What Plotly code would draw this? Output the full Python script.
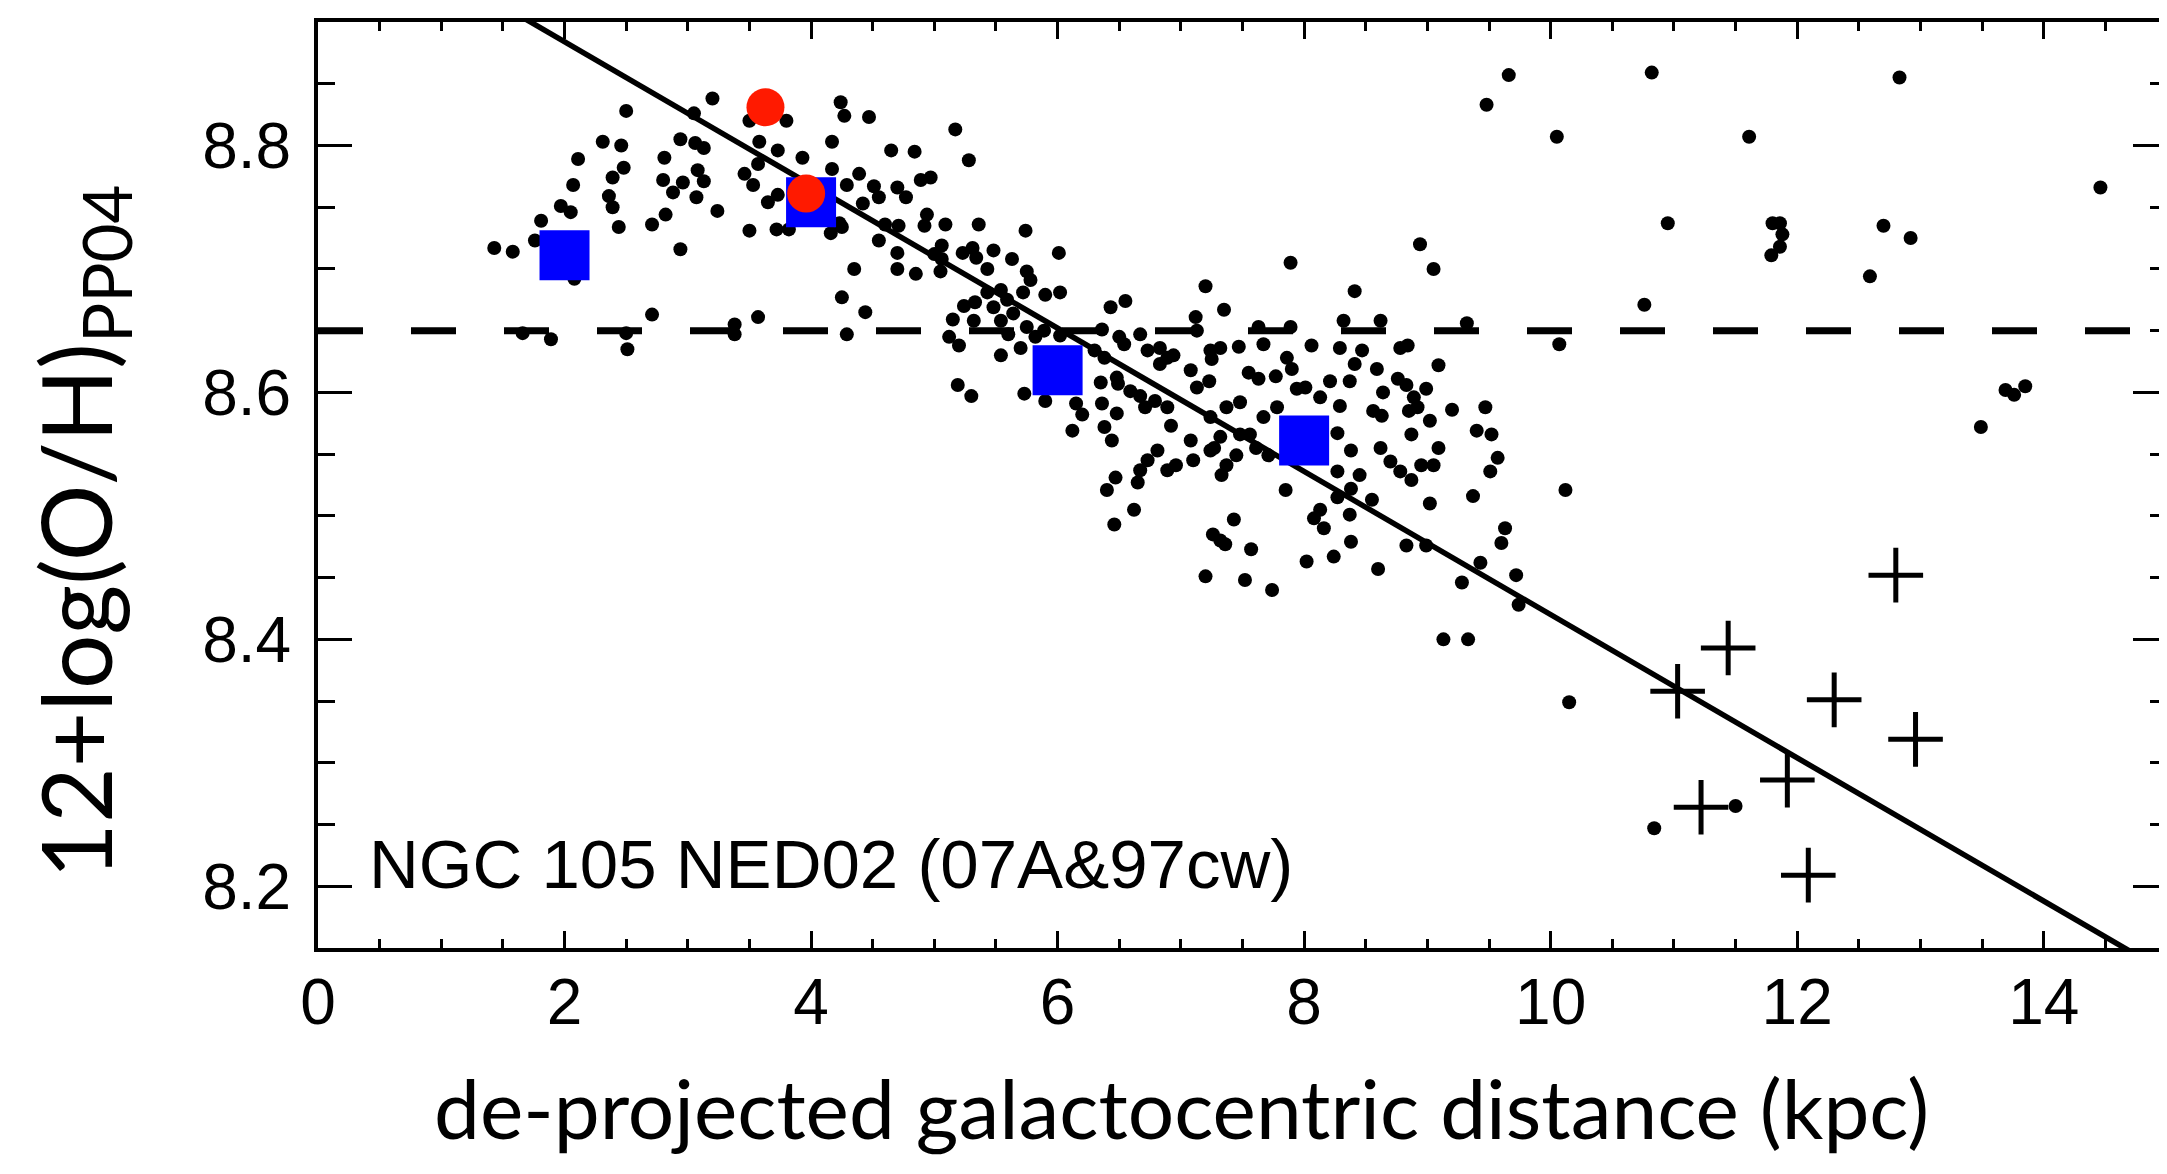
import plotly.graph_objects as go

# HII regions: (galactocentric distance in kpc, 12+log(O/H))
hii_points = [
    (1.43, 8.717), (1.58, 8.714), (1.76, 8.723), (1.81, 8.739), (1.97, 8.751), (2.05, 8.746),
    (2.07, 8.768), (2.11, 8.789), (2.08, 8.692), (2.31, 8.803), (2.46, 8.800), (2.50, 8.828),
    (2.48, 8.782), (2.39, 8.774), (2.36, 8.759), (2.39, 8.750), (2.44, 8.734), (2.71, 8.736),
    (2.82, 8.744), (2.94, 8.716), (2.81, 8.790), (2.94, 8.805), (3.06, 8.802), (3.13, 8.798),
    (2.80, 8.772), (2.88, 8.762), (2.96, 8.770), (3.08, 8.780), (3.13, 8.771), (3.07, 8.758),
    (3.24, 8.747), (3.05, 8.826), (3.20, 8.838), (3.50, 8.820), (3.80, 8.820), (3.58, 8.803),
    (3.73, 8.796), (3.93, 8.790), (3.46, 8.777), (3.57, 8.785), (3.53, 8.768), (3.65, 8.754),
    (3.73, 8.760), (3.50, 8.731), (3.72, 8.732), (3.82, 8.732), (4.16, 8.729), (4.23, 8.737),
    (1.66, 8.648), (1.89, 8.643), (2.51, 8.635), (2.50, 8.648), (2.71, 8.663), (3.38, 8.655),
    (3.38, 8.647), (3.57, 8.661),
    (4.24, 8.835), (4.27, 8.824), (4.47, 8.823), (4.17, 8.803), (5.17, 8.813), (4.65, 8.796),
    (4.84, 8.795), (5.28, 8.788), (4.17, 8.781), (4.39, 8.777), (4.29, 8.768), (4.51, 8.767),
    (4.55, 8.758), (4.70, 8.766), (4.77, 8.758), (4.89, 8.772), (4.97, 8.774), (4.42, 8.753),
    (4.60, 8.736), (4.71, 8.735), (4.55, 8.723), (4.25, 8.734), (4.94, 8.744), (4.92, 8.735),
    (5.09, 8.736), (5.36, 8.736), (5.74, 8.731), (4.70, 8.713), (4.70, 8.700), (4.85, 8.696),
    (4.35, 8.700), (5.00, 8.712), (5.06, 8.719), (5.06, 8.708), (5.05, 8.698), (5.23, 8.713),
    (5.31, 8.717), (5.34, 8.709), (5.43, 8.700), (5.48, 8.715), (5.63, 8.708), (5.75, 8.698),
    (5.78, 8.691), (6.01, 8.713), (4.25, 8.677), (4.44, 8.665), (4.29, 8.647), (5.15, 8.659),
    (5.12, 8.645), (5.20, 8.638), (5.24, 8.670), (5.33, 8.673), (5.32, 8.658), (5.43, 8.681),
    (5.48, 8.669), (5.54, 8.683), (5.59, 8.675), (5.54, 8.658), (5.64, 8.664), (5.72, 8.681),
    (5.90, 8.679), (6.02, 8.681), (5.75, 8.653), (5.82, 8.645), (5.70, 8.636), (5.54, 8.630),
    (5.60, 8.647), (6.43, 8.669), (6.55, 8.674), (6.36, 8.651), (6.50, 8.645), (6.67, 8.647),
    (7.20, 8.686), (7.12, 8.661), (7.13, 8.650), (6.73, 8.634), (6.83, 8.636), (6.94, 8.630),
    (7.25, 8.627), (7.08, 8.618), (7.23, 8.609), (6.35, 8.608), (6.49, 8.607), (5.19, 8.606),
    (7.35, 8.667), (5.89, 8.650), (6.02, 8.646),
    (5.30, 8.597), (5.73, 8.599), (5.90, 8.593), (6.15, 8.591), (6.20, 8.582), (6.12, 8.569),
    (6.36, 8.591), (6.38, 8.572), (6.44, 8.561), (6.48, 8.583), (6.59, 8.601), (6.67, 8.597),
    (6.71, 8.588), (6.79, 8.593), (6.89, 8.588), (6.92, 8.573), (6.83, 8.623), (7.13, 8.604),
    (7.08, 8.561), (7.10, 8.545), (7.24, 8.553), (7.32, 8.564), (6.81, 8.553), (6.73, 8.545),
    (6.67, 8.537), (6.65, 8.527), (6.89, 8.537), (6.96, 8.541), (6.47, 8.531), (6.40, 8.521),
    (6.62, 8.505), (6.46, 8.493), (7.26, 8.485), (7.32, 8.480), (7.20, 8.451), (6.54, 8.639),
    (6.89, 8.628), (7.24, 8.634), (6.38, 8.628), (6.48, 8.612), (6.30, 8.634),
    (7.63, 8.653), (7.89, 8.653), (8.32, 8.658), (8.62, 8.658), (9.32, 8.656), (10.07, 8.639),
    (7.32, 8.636), (7.47, 8.637), (7.67, 8.639), (7.86, 8.628), (7.90, 8.619), (8.06, 8.638),
    (8.29, 8.636), (8.47, 8.634), (8.41, 8.623), (8.59, 8.619), (8.78, 8.636), (8.84, 8.638),
    (9.09, 8.622), (7.55, 8.616), (7.63, 8.611), (7.77, 8.613), (7.94, 8.603), (8.01, 8.604),
    (8.13, 8.596), (8.21, 8.609), (8.37, 8.609), (8.29, 8.589), (8.64, 8.600), (8.76, 8.611),
    (8.83, 8.606), (8.99, 8.603), (8.89, 8.596), (8.92, 8.588), (8.85, 8.585), (9.02, 8.577),
    (8.56, 8.585), (8.63, 8.581), (9.20, 8.586), (9.47, 8.588), (9.40, 8.569), (9.52, 8.566),
    (9.57, 8.547), (9.51, 8.536), (8.87, 8.566), (9.09, 8.555), (8.62, 8.555), (8.70, 8.544),
    (8.78, 8.536), (8.87, 8.529), (8.95, 8.541), (9.05, 8.541), (8.38, 8.553), (8.27, 8.567),
    (8.27, 8.536), (8.45, 8.533), (8.38, 8.522), (8.27, 8.515), (8.55, 8.513), (9.02, 8.510),
    (9.37, 8.516), (10.12, 8.521), (7.85, 8.521), (8.13, 8.505), (8.08, 8.498), (8.16, 8.490),
    (8.37, 8.501), (8.38, 8.479), (7.43, 8.497), (7.36, 8.477), (7.57, 8.473), (8.02, 8.463),
    (8.24, 8.467), (8.60, 8.457), (8.83, 8.476), (8.99, 8.476), (9.63, 8.490), (9.60, 8.478),
    (9.43, 8.462), (9.72, 8.452), (9.28, 8.446), (9.74, 8.428), (7.52, 8.448), (7.74, 8.440),
    (9.13, 8.400), (9.33, 8.400), (7.27, 8.555), (7.37, 8.588), (7.48, 8.592), (7.56, 8.566),
    (7.67, 8.580), (7.78, 8.588), (7.37, 8.541), (7.33, 8.533), (7.45, 8.549), (7.61, 8.555),
    (7.71, 8.549), (7.24, 8.580), (7.48, 8.566),
    (9.66, 8.857), (9.48, 8.833), (10.05, 8.807), (8.94, 8.720), (9.05, 8.700), (7.89, 8.705),
    (8.41, 8.682),
    (10.82, 8.859), (12.83, 8.855), (11.61, 8.807), (14.46, 8.766), (10.95, 8.737), (11.80, 8.737),
    (11.86, 8.737), (11.88, 8.728), (11.86, 8.718), (11.79, 8.711), (12.70, 8.735), (12.92, 8.725),
    (12.59, 8.694), (10.76, 8.671), (13.69, 8.602), (13.76, 8.598), (13.85, 8.605), (13.49, 8.572),
    (10.15, 8.349), (10.84, 8.247), (11.50, 8.265),
]

# binned averages (blue squares)
bin_r = [2.0, 4.0, 6.0, 8.0]
bin_oh = [8.711, 8.754, 8.618, 8.561]

# red circles
red_r = [3.63, 3.96]
red_oh = [8.831, 8.761]

# outer regions (crosses)
cross_r = [11.03, 11.44, 12.80, 12.30, 12.96, 11.92, 11.22, 12.09]
cross_oh = [8.358, 8.393, 8.452, 8.351, 8.319, 8.286, 8.264, 8.209]

# linear gradient fit and solar reference level
fit_slope = -0.058
fit_intercept = 9.0
fit_r = [0.0, 15.0]
solar_oh = 8.65

dots_r = [p[0] for p in hii_points]
dots_oh = [p[1] for p in hii_points]
fit_oh = [fit_intercept + fit_slope * r for r in fit_r]

fig = go.Figure()

fig.add_trace(go.Scatter(
    x=fit_r, y=[solar_oh, solar_oh], mode="lines",
    line=dict(color="black", width=7, dash="45px,48px"),
))
fig.add_trace(go.Scatter(
    x=fit_r, y=fit_oh, mode="lines",
    line=dict(color="black", width=5.5),
))
fig.add_trace(go.Scatter(
    x=dots_r, y=dots_oh, mode="markers",
    marker=dict(symbol="circle", size=14, color="black"),
))
fig.add_trace(go.Scatter(
    x=bin_r, y=bin_oh, mode="markers",
    marker=dict(symbol="square", size=50, color="#0000ff"),
))
fig.add_trace(go.Scatter(
    x=red_r, y=red_oh, mode="markers",
    marker=dict(symbol="circle", size=38, color="#ff1a00"),
))
fig.add_trace(go.Scatter(
    x=cross_r, y=cross_oh, mode="markers",
    marker=dict(symbol="cross-thin", size=39, line=dict(color="black", width=5)),
))

tick_font = dict(family="Liberation Sans, Arial, sans-serif", size=64, color="black")

fig.update_xaxes(
    range=[0, 15], tickvals=[0, 2, 4, 6, 8, 10, 12, 14],
    ticks="inside", ticklen=17, tickwidth=3, tickcolor="black",
    minor=dict(ticks="inside", dtick=0.5, ticklen=9, tickwidth=3, tickcolor="black"),
    showline=True, linewidth=4, linecolor="black", mirror="allticks",
    showgrid=False, zeroline=False, tickfont=tick_font, ticklabelstandoff=-5,
)
fig.update_yaxes(
    range=[8.15, 8.9], tickvals=[8.2, 8.4, 8.6, 8.8], tickformat=".1f",
    ticks="inside", ticklen=34, tickwidth=3, tickcolor="black",
    minor=dict(ticks="inside", dtick=0.05, ticklen=17, tickwidth=3, tickcolor="black"),
    showline=True, linewidth=4, linecolor="black", mirror="allticks",
    showgrid=False, zeroline=False, tickfont=tick_font, ticklabelstandoff=10,
)

fig.add_annotation(
    x=0.40, y=8.218, xref="x", yref="y", xanchor="left", yanchor="middle",
    text="NGC 105 NED02 (07A&97cw)", showarrow=False,
    font=dict(family="Liberation Sans, Arial, sans-serif", size=69, color="black"),
)
fig.add_annotation(
    x=0.4668, y=-0.172, xref="paper", yref="paper", xanchor="center", yanchor="middle",
    text="de-projected galactocentric distance (kpc)", showarrow=False,
    font=dict(family="Lato, sans-serif", size=82, color="black"),
)
fig.add_annotation(
    x=-0.128, y=0.45, xref="paper", yref="paper", xanchor="center", yanchor="middle",
    text="12+log(O/H)<sub>PP04</sub>", showarrow=False, textangle=-90,
    font=dict(family="Lato, sans-serif", size=96, color="black"),
)

fig.update_layout(
    width=2167, height=1174,
    margin=dict(l=310, r=4, t=14, b=234),
    paper_bgcolor="white", plot_bgcolor="white",
    showlegend=False,
)

fig.write_html("out.html")
